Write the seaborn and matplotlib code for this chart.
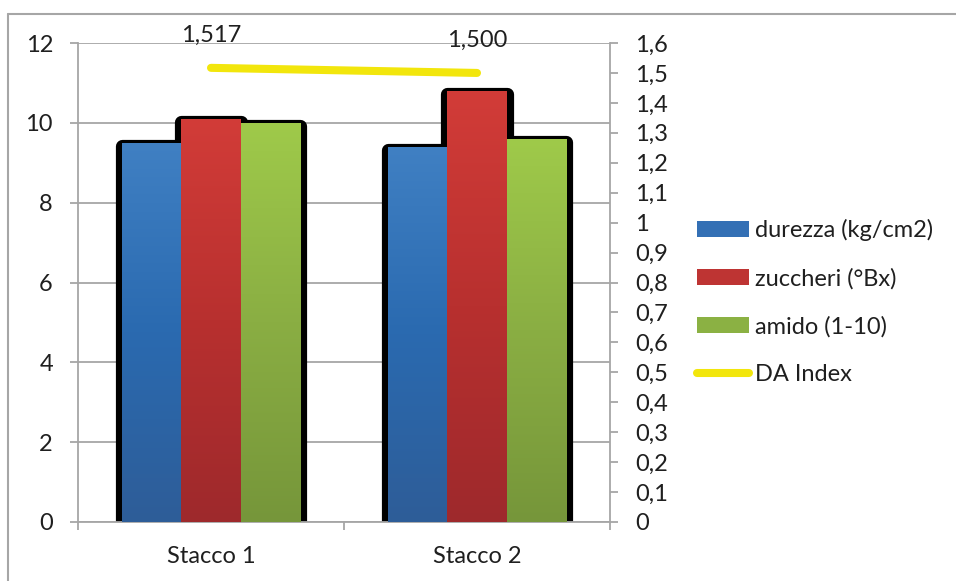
import numpy as np
import pandas as pd
import matplotlib
matplotlib.use("Agg")
import matplotlib.pyplot as plt
import matplotlib.transforms as mtransforms
from matplotlib.colors import LinearSegmentedColormap
from matplotlib.patches import Rectangle, Patch
from matplotlib.lines import Line2D
import seaborn as sns

# ---- data -------------------------------------------------------------
categories = ["Stacco 1", "Stacco 2"]
series = ["durezza (kg/cm2)", "zuccheri (°Bx)", "amido (1-10)"]
durezza = [9.5, 9.4]
zuccheri = [10.1, 10.8]
amido = [10.0, 9.6]
da_index = [1.517, 1.500]
line_name = "DA Index"

left_ticks = [0, 2, 4, 6, 8, 10, 12]
right_ticks = [0, 0.1, 0.2, 0.3, 0.4, 0.5, 0.6, 0.7, 0.8,
               0.9, 1.0, 1.1, 1.2, 1.3, 1.4, 1.5, 1.6]

# ---- styling ----------------------------------------------------------
sns.set_style("white")
plt.rcParams["font.family"] = ["Lato", "DejaVu Sans"]
TEXT = "#1f1f1f"
GRID = "#a6a6a6"
FS = 17

base_colors = ["#3470B5", "#BE3433", "#8BB143"]
gradients = [
    ["#4080C3", "#2A6AB0", "#2E5D98"],
    ["#D23C38", "#B8302F", "#9E292C"],
    ["#9FCA4A", "#8AAE43", "#76963A"],
]
line_color = "#F2E60C"

df = pd.DataFrame({
    "Stacco": np.repeat(categories, len(series)),
    "Serie": series * len(categories),
    "Valore": np.ravel(np.column_stack([durezza, zuccheri, amido])),
})

fig = plt.figure(figsize=(9.56, 5.81), dpi=100)
ax = fig.add_axes([78 / 956, 59 / 581, 532 / 956, 479 / 581])

sns.barplot(data=df, x="Stacco", y="Valore", hue="Serie",
            order=categories, hue_order=series, palette=base_colors,
            width=0.67, gap=0, saturation=1, ax=ax, legend=False,
            linewidth=0, zorder=3)

# soft black shadow behind each bar, plus vertical gradient fill
shadow_tr = mtransforms.offset_copy(ax.transData, fig=fig, x=0, y=-3, units="dots")
bars = [p for p in ax.patches if isinstance(p, Rectangle)]
for i, p in enumerate(bars):
    x0, y0 = p.get_xy()
    w, h = p.get_width(), p.get_height()
    sh = Rectangle((x0, y0), w, h, facecolor="black", edgecolor="black",
                   linewidth=9.5, joinstyle="round", transform=shadow_tr,
                   zorder=2)
    ax.add_patch(sh)
    hue_idx = i // len(categories)
    cmap = LinearSegmentedColormap.from_list("g%d" % i, gradients[hue_idx][::-1])
    im = ax.imshow(np.linspace(0, 1, 256).reshape(-1, 1), cmap=cmap,
                   origin="lower", aspect="auto",
                   extent=(x0, x0 + w, y0, y0 + h), zorder=3.5,
                   interpolation="bilinear")
    im.set_clip_path(p)

ax.set_xlim(-0.5, len(categories) - 0.5)
ax.set_ylim(left_ticks[0], left_ticks[-1])

# left axis
ax.set_yticks(left_ticks)
ax.set_yticklabels([str(t) for t in left_ticks])
ax.yaxis.grid(True, color=GRID, linewidth=1.3, zorder=0)
ax.set_axisbelow(True)
ax.tick_params(axis="y", direction="out", length=6, width=1.3, color=GRID,
               labelsize=FS, labelcolor=TEXT, pad=12, left=True)

# category axis: ticks at group boundaries, labels centred under groups
ax.set_xticks(np.arange(len(categories) + 1) - 0.5)
ax.set_xticklabels([])
ax.set_xticks(np.arange(len(categories)), minor=True)
ax.set_xticklabels(categories, minor=True)
ax.tick_params(axis="x", which="major", direction="out", length=6, width=1.3,
               color=GRID, bottom=True)
ax.tick_params(axis="x", which="minor", length=0, labelsize=FS,
               labelcolor=TEXT, pad=17)
ax.set_xlabel("")
ax.set_ylabel("")

for s in ["top", "right"]:
    ax.spines[s].set_visible(False)
for s in ["left", "bottom"]:
    ax.spines[s].set_color(GRID)
    ax.spines[s].set_linewidth(1.3)

# right axis for the DA Index
ax2 = ax.twinx()
xpos = np.arange(len(categories))
sns.lineplot(x=xpos, y=da_index, ax=ax2, color=line_color, linewidth=5.8,
             solid_capstyle="round", legend=False, zorder=5)
ax2.set_ylim(right_ticks[0], right_ticks[-1])
ax2.set_yticks(right_ticks)


def comma_fmt(v):
    if abs(v - round(v)) < 1e-9:
        return str(int(round(v)))
    return f"{v:.1f}".replace(".", ",")


ax2.set_yticklabels([comma_fmt(v) for v in right_ticks])
ax2.tick_params(axis="y", direction="out", length=6, width=1.3, color=GRID,
                labelsize=FS, labelcolor=TEXT, pad=12, right=True)
for s in ["top", "left", "bottom"]:
    ax2.spines[s].set_visible(False)
ax2.spines["right"].set_color(GRID)
ax2.spines["right"].set_linewidth(1.3)
ax2.set_ylabel("")

for xi, v in zip(xpos, da_index):
    ax2.annotate(f"{v:.3f}".replace(".", ","), (xi, v), xytext=(0, 33),
                 textcoords="offset pixels", ha="center", va="center",
                 fontsize=FS, color=TEXT, annotation_clip=False)

# legend
handles = [Patch(facecolor=c, edgecolor="none") for c in base_colors]
handles.append(Line2D([0], [0], color=line_color, linewidth=5.8,
                      solid_capstyle="round"))
fig.legend(handles, series + [line_name], loc="upper left",
           bbox_to_anchor=(697 / 956, 1 - 219 / 581), frameon=False,
           fontsize=FS, labelcolor=TEXT, handlelength=2.2, handleheight=0.64,
           handletextpad=0.25, labelspacing=1.13, borderpad=0, borderaxespad=0)

# outer chart frame (top and left edges)
fig.add_artist(Line2D([8 / 956, 1], [1 - 14 / 581, 1 - 14 / 581],
                      transform=fig.transFigure, color=GRID, linewidth=1.5))
fig.add_artist(Line2D([8 / 956, 8 / 956], [0, 1 - 14 / 581],
                      transform=fig.transFigure, color=GRID, linewidth=1.5))

fig.savefig("out.png", dpi=100)
